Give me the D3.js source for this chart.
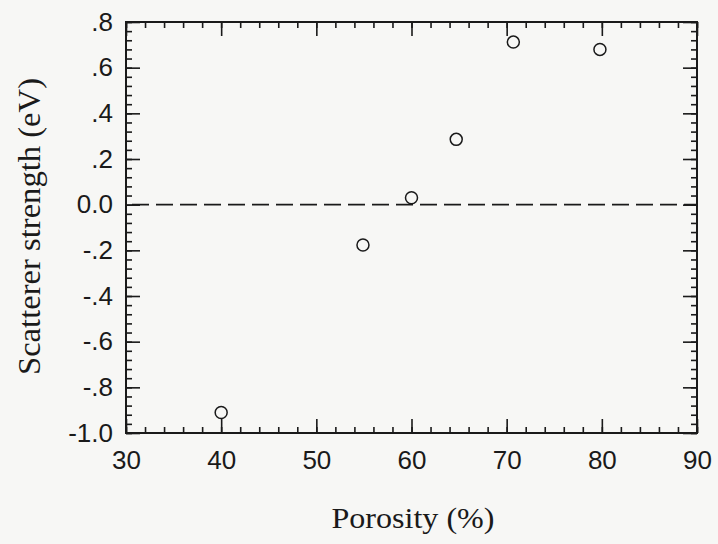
<!DOCTYPE html>
<html>
<head>
<meta charset="utf-8">
<script src="https://cdn.jsdelivr.net/npm/d3@7"></script>
<style>
  body { margin: 0; background: #f7f7f5; }
  svg { display: block; }
</style>
</head>
<body>
<script>
// chart values
var porosity = [40, 54.9, 60, 64.7, 70.7, 79.8];
var strength = [-0.91, -0.177, 0.03, 0.286, 0.712, 0.68];
var x_major_ticks = [30, 40, 50, 60, 70, 80, 90];
var y_major_ticks = [-1.0, -0.8, -0.6, -0.4, -0.2, 0.0, 0.2, 0.4, 0.6, 0.8];
var y_tick_labels = ["-1.0", "-.8", "-.6", "-.4", "-.2", "0.0", ".2", ".4", ".6", ".8"];
var x_title = "Porosity (%)";
var y_title = "Scatterer strength (eV)";

// ====================================================================
// globals
var total_w = 718, total_h = 544;
var margin = {top: 22, right: 21, bottom: 111, left: 126},
  width = total_w - margin.left - margin.right,
  height = total_h - margin.top - margin.bottom;
var ink = "#1a1a1a";
var int_major = 14;
var int_minor = 6;
// ====================================================================

var svg = d3.select("body").append("svg")
  .attr("width", total_w)
  .attr("height", total_h);

var g = svg.append("g")
  .attr("transform", "translate(" + margin.left + "," + margin.top + ")");

var x = d3.scaleLinear().domain([30, 90]).range([0, width]);
var y = d3.scaleLinear().domain([-1.0, 0.8]).range([height, 0]);

var x_minor = d3.range(30, 90.01, 2);
var y_minor = d3.range(-1.0, 0.801, 0.04);

function style_axis(sel, show_text) {
  sel.attr("font-size", null).attr("font-family", null);
  sel.select(".domain").remove();
  sel.selectAll("line").attr("stroke", ink).attr("stroke-width", 1.6);
  if (!show_text) sel.selectAll("text").remove();
  sel.selectAll("text")
    .attr("fill", ink)
    .attr("font-family", "Liberation Sans, Arial, sans-serif")
    .attr("font-size", 26);
}

// bottom
g.append("g").attr("transform", "translate(0," + height + ")")
  .call(d3.axisBottom(x).tickValues(x_minor).tickSize(-int_minor).tickFormat(""))
  .call(style_axis, false);
g.append("g").attr("transform", "translate(0," + height + ")")
  .call(d3.axisBottom(x).tickValues(x_major_ticks).tickSize(-int_major).tickPadding(18)
    .tickFormat(d3.format("d")))
  .call(style_axis, true);

// top
g.append("g")
  .call(d3.axisTop(x).tickValues(x_minor).tickSize(-int_minor))
  .call(style_axis, false);
g.append("g")
  .call(d3.axisTop(x).tickValues(x_major_ticks).tickSize(-int_major))
  .call(style_axis, false);

// left
g.append("g")
  .call(d3.axisLeft(y).tickValues(y_minor).tickSize(-int_minor))
  .call(style_axis, false);
g.append("g")
  .call(d3.axisLeft(y).tickValues(y_major_ticks).tickSize(-int_major).tickPadding(13)
    .tickFormat(function(d, i) { return y_tick_labels[i]; }))
  .call(style_axis, true);

// right
g.append("g").attr("transform", "translate(" + width + ",0)")
  .call(d3.axisRight(y).tickValues(y_minor).tickSize(-int_minor))
  .call(style_axis, false);
g.append("g").attr("transform", "translate(" + width + ",0)")
  .call(d3.axisRight(y).tickValues(y_major_ticks).tickSize(-int_major))
  .call(style_axis, false);

// frame
g.append("rect")
  .attr("width", width)
  .attr("height", height)
  .attr("fill", "none")
  .attr("stroke", ink)
  .attr("stroke-width", 2);

// zero line
g.append("line")
  .attr("x1", x(30) + 6).attr("x2", x(90))
  .attr("y1", y(0)).attr("y2", y(0))
  .attr("stroke", ink)
  .attr("stroke-width", 1.8)
  .attr("stroke-dasharray", "17,7");

// points
g.append("g").selectAll("circle")
  .data(porosity)
  .enter()
  .append("circle")
  .attr("cx", function(d) { return x(d); })
  .attr("cy", function(d, i) { return y(strength[i]); })
  .attr("r", 6)
  .attr("fill", "none")
  .attr("stroke", ink)
  .attr("stroke-width", 1.5);

// titles
svg.append("text")
  .attr("x", 413)
  .attr("y", 528)
  .attr("text-anchor", "middle")
  .attr("textLength", 163)
  .attr("lengthAdjust", "spacingAndGlyphs")
  .attr("fill", ink)
  .style("font-family", "'Liberation Serif', 'Times New Roman', serif")
  .style("font-size", "30px")
  .text(x_title);

svg.append("text")
  .attr("transform", "translate(40,226.5) rotate(-90)")
  .attr("text-anchor", "middle")
  .attr("textLength", 297)
  .attr("lengthAdjust", "spacingAndGlyphs")
  .attr("fill", ink)
  .style("font-family", "'Liberation Serif', 'Times New Roman', serif")
  .style("font-size", "32px")
  .text(y_title);
</script>
</body>
</html>
